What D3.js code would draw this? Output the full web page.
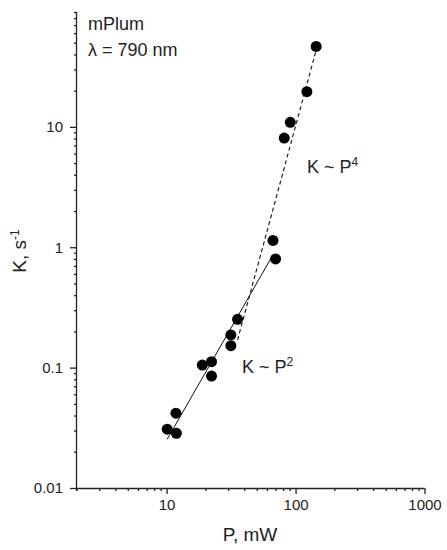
<!DOCTYPE html>
<html>
<head>
<meta charset="utf-8">
<script src="https://cdn.jsdelivr.net/npm/d3@7"></script>
<style>
  body { margin: 0; background: #fff; }
  text { font-family: Arial, "Liberation Sans", sans-serif; fill: #222; }
</style>
</head>
<body>
<svg width="447" height="550"></svg>
<script>
// measured points
var powerMW = [144.5, 122.4, 91, 81.7, 66.8, 70, 35.5, 31.5, 31.5, 18.9, 22.3, 22.3, 11.8, 10.1, 11.9];
var rateK = [46.6, 19.6, 10.9, 8.07, 1.14, 0.80, 0.252, 0.187, 0.152, 0.105, 0.112, 0.085, 0.0418, 0.0308, 0.0285];

// fit lines (end points)
var fitP2_P = [10.1, 67], fitP2_K = [0.0254, 0.87];
var fitP4_P = [35.5, 145], fitP4_K = [0.17, 44];

var xMajor = [10, 100, 1000];
var yMajor = [0.01, 0.1, 1, 10];
var yMajorLabels = ["0.01", "0.1", "1", "10"];

var svg = d3.select("svg");

var x = d3.scaleLog().domain([2, 1000]).range([76.5, 424.5]);
var y = d3.scaleLog().domain([0.01, 90]).range([488, 12]);

// minor tick values
var xMinor = [], yMinor = [];
[1, 10, 100].forEach(function (d) {
    for (var i = 2; i < 10; i++) if (d * i >= 2 && d * i < 1000) xMinor.push(d * i);
});
[0.01, 0.1, 1, 10].forEach(function (d) {
    for (var i = 2; i < 10; i++) if (d * i <= 90) yMinor.push(+(d * i).toPrecision(3));
});

// x axis
svg.append("g")
    .attr("transform", "translate(0,488)")
    .call(d3.axisBottom(x).tickValues(xMinor).tickSize(3).tickFormat(""))
    .call(g => g.select(".domain").remove());
var xa = svg.append("g")
    .attr("transform", "translate(0,488)")
    .call(d3.axisBottom(x).tickValues(xMajor).tickSize(6).tickPadding(5).tickFormat(d3.format("d")))
    .call(g => g.select(".domain").attr("d", "M76.5,0.5H424.5"));
xa.selectAll("text").style("font-size", "15px");

// y axis
svg.append("g")
    .attr("transform", "translate(77,0)")
    .call(d3.axisLeft(y).tickValues(yMinor).tickSize(3).tickFormat(""))
    .call(g => g.select(".domain").remove());
var ya = svg.append("g")
    .attr("transform", "translate(77,0)")
    .call(d3.axisLeft(y).tickValues(yMajor).tickSize(7).tickPadding(7)
        .tickFormat(function (d, i) { return yMajorLabels[i]; }))
    .call(g => g.select(".domain").attr("d", "M-0.5,12V491"));
ya.selectAll("text").style("font-size", "15px");

svg.selectAll(".tick line, .domain").attr("stroke", "#222").attr("stroke-width", 1.3);

// fit lines
var line = d3.line().x(d => x(d[0])).y(d => y(d[1]));
svg.append("path")
    .attr("d", line(d3.zip(fitP2_P, fitP2_K)))
    .attr("fill", "none").attr("stroke", "#111").attr("stroke-width", 1);
svg.append("path")
    .attr("d", line(d3.zip(fitP4_P, fitP4_K)))
    .attr("fill", "none").attr("stroke", "#111").attr("stroke-width", 1.1)
    .attr("stroke-dasharray", "4,3");

// points
svg.append("g").selectAll("circle")
    .data(d3.zip(powerMW, rateK))
    .enter().append("circle")
    .attr("cx", d => x(d[0]))
    .attr("cy", d => y(d[1]))
    .attr("r", 5.5)
    .attr("fill", "#000");

// annotations
svg.append("text").attr("x", 88).attr("y", 30).style("font-size", "18px").text("mPlum");
svg.append("text").attr("x", 88).attr("y", 56).style("font-size", "18px").text("λ = 790 nm");

var t4 = svg.append("text").attr("x", 307).attr("y", 173).style("font-size", "18px");
t4.append("tspan").text("K ~ P");
t4.append("tspan").attr("dy", -7).style("font-size", "12px").text("4");

var t2 = svg.append("text").attr("x", 242).attr("y", 373).style("font-size", "18px");
t2.append("tspan").text("K ~ P");
t2.append("tspan").attr("dy", -7).style("font-size", "12px").text("2");

// axis titles
svg.append("text").attr("x", 250).attr("y", 541).attr("text-anchor", "middle")
    .style("font-size", "19px").text("P, mW");

var yt = svg.append("text")
    .attr("transform", "translate(26,251) rotate(-90)")
    .attr("text-anchor", "middle")
    .style("font-size", "19px");
yt.append("tspan").text("K, s");
yt.append("tspan").attr("dy", -7).style("font-size", "12px").text("-1");
</script>
</body>
</html>
